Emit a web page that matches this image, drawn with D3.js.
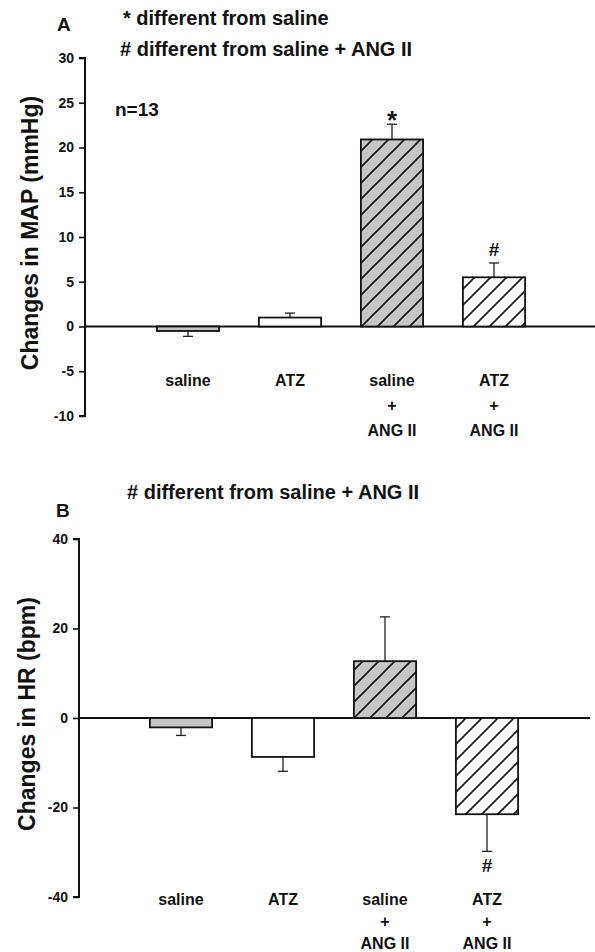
<!DOCTYPE html>
<html lang="en">
<head>
    <meta charset="UTF-8">
    <title>MAP and HR changes</title>
    <script src="https://d3js.org/d3.v7.min.js"></script>
    <style>
        body { margin: 0; background: #fff; }
        text { font-family: "Liberation Sans", Arial, sans-serif; font-weight: bold; fill: #111; }
        .cat { font-size: 16px; }
        .note { font-size: 20px; }
        .ytitle { font-size: 23px; }
        .panel { font-size: 19px; }
    </style>
</head>
<body>
    <svg width="595" height="952"></svg>

    <script>
        // groups (each label broken into lines)
        const categories = ["saline", "ATZ", "saline + ANG II", "ATZ + ANG II"];
        const catLines = [["saline"], ["ATZ"], ["saline", "+", "ANG II"], ["ATZ", "+", "ANG II"]];

        // panel A: change in MAP (mmHg), mean and SEM
        const mapMean = [-0.5, 1.0, 20.9, 5.5];
        const mapSem = [0.6, 0.5, 1.7, 1.6];
        const mapMarks = ["", "", "*", "#"];
        const mapTicks = [-10, -5, 0, 5, 10, 15, 20, 25, 30];

        // panel B: change in HR (bpm), mean and SEM
        const hrMean = [-2.1, -8.7, 12.7, -21.5];
        const hrSem = [1.8, 3.2, 9.9, 8.3];
        const hrMarks = ["", "", "", "#"];
        const hrTicks = [-40, -20, 0, 20, 40];

        // fill style per group
        const fills = ["gray", "white", "grayHatch", "whiteHatch"];

        const svg = d3.select("svg");
        const defs = svg.append("defs");

        [["grayHatch", "#c6c6c6"], ["whiteHatch", "#ffffff"]].forEach(([id, bg]) => {
            const p = defs.append("pattern")
                .attr("id", id)
                .attr("patternUnits", "userSpaceOnUse")
                .attr("width", 16).attr("height", 16);
            p.append("rect").attr("width", 16).attr("height", 16).attr("fill", bg);
            p.append("path")
                .attr("d", "M-4,4 L4,-4 M0,16 L16,0 M12,20 L20,12")
                .attr("stroke", "#111").attr("stroke-width", 1.6);
        });

        function fillOf(f) {
            if (f === "gray") return "#c6c6c6";
            if (f === "white") return "#ffffff";
            return "url(#" + f + ")";
        }

        function panel(opt) {
            const g = svg.append("g");
            const y = d3.scaleLinear().domain(opt.domain).range(opt.yRange);
            const x = d3.scaleBand().domain(categories).range(opt.xRange)
                .paddingInner(0.39).paddingOuter(0.195);

            // y axis
            const axis = g.append("g")
                .attr("transform", `translate(${opt.axisX},0)`)
                .call(d3.axisLeft(y).tickValues(opt.ticks).tickSize(6).tickPadding(5).tickFormat(d => String(d)));
            axis.attr("font-size", null).attr("font-family", null);
            axis.select(".domain").attr("stroke", "#111").attr("stroke-width", 2)
                .attr("d", `M-6,${y(opt.domain[0])}H0V${y(opt.domain[1])}H-6`);
            axis.selectAll(".tick line").attr("stroke", "#111").attr("stroke-width", 1.6);
            axis.selectAll(".tick text").attr("fill", "#111")
                .style("font-size", "14px").style("font-weight", "bold");

            // zero line
            g.append("line")
                .attr("x1", opt.axisX).attr("x2", opt.zeroEnd)
                .attr("y1", y(0)).attr("y2", y(0))
                .attr("stroke", "#111").attr("stroke-width", 2);

            const data = categories.map((c, i) => ({ c, m: opt.mean[i], e: opt.sem[i], f: fills[i], mark: opt.marks[i], lines: catLines[i] }));

            // error bars (drawn on the outer side)
            const eb = g.selectAll(".err").data(data).enter().append("g");
            eb.append("line")
                .attr("x1", d => x(d.c) + x.bandwidth() / 2).attr("x2", d => x(d.c) + x.bandwidth() / 2)
                .attr("y1", d => y(d.m)).attr("y2", d => y(d.m + Math.sign(d.m) * d.e))
                .attr("stroke", "#222").attr("stroke-width", 1.3);
            eb.append("line")
                .attr("x1", d => x(d.c) + x.bandwidth() / 2 - 5).attr("x2", d => x(d.c) + x.bandwidth() / 2 + 5)
                .attr("y1", d => y(d.m + Math.sign(d.m) * d.e)).attr("y2", d => y(d.m + Math.sign(d.m) * d.e))
                .attr("stroke", "#222").attr("stroke-width", 1.3);

            // bars
            g.selectAll(".bar").data(data).enter().append("rect")
                .attr("x", d => x(d.c))
                .attr("width", x.bandwidth())
                .attr("y", d => y(Math.max(0, d.m)))
                .attr("height", d => Math.abs(y(d.m) - y(0)))
                .attr("fill", d => fillOf(d.f))
                .attr("stroke", "#111").attr("stroke-width", 1.8);

            // significance marks
            g.selectAll(".mark").data(data.filter(d => d.mark)).enter().append("text")
                .attr("x", d => x(d.c) + x.bandwidth() / 2)
                .attr("y", d => d.m >= 0 ? y(d.m + d.e) - 7 : y(d.m - d.e) + 21)
                .attr("text-anchor", "middle")
                .style("font-size", d => d.mark === "*" ? "26px" : "19px")
                .attr("dy", d => d.mark === "*" ? "0.45em" : "0")
                .text(d => d.mark);

            // category labels
            data.forEach(d => {
                d.lines.forEach((t, k) => {
                    g.append("text").attr("class", "cat")
                        .attr("x", x(d.c) + x.bandwidth() / 2)
                        .attr("y", opt.catY + k * opt.lineGap)
                        .attr("text-anchor", "middle")
                        .text(t);
                });
            });

            // y title
            g.append("text").attr("class", "ytitle")
                .attr("transform", `translate(${opt.titleX},${opt.titleY}) rotate(-90)`)
                .attr("text-anchor", "middle")
                .text(opt.ytitle);
        }

        panel({
            domain: [-10, 30], yRange: [416, 58], ticks: mapTicks,
            xRange: [137, 545], axisX: 85, zeroEnd: 595,
            mean: mapMean, sem: mapSem, marks: mapMarks,
            catY: 386, lineGap: 25, titleX: 38, titleY: 233, ytitle: "Changes in MAP (mmHg)"
        });

        panel({
            domain: [-40, 40], yRange: [897, 539], ticks: hrTicks,
            xRange: [130, 538], axisX: 79, zeroEnd: 590,
            mean: hrMean, sem: hrSem, marks: hrMarks,
            catY: 905, lineGap: 22, titleX: 35, titleY: 714, ytitle: "Changes in HR (bpm)"
        });

        // panel letters and notes
        svg.append("text").attr("class", "panel").attr("x", 57).attr("y", 31).text("A");
        svg.append("text").attr("class", "note").attr("x", 123).attr("y", 25).text("* different from saline");
        svg.append("text").attr("class", "note").attr("x", 120).attr("y", 56).text("# different from saline + ANG II");
        svg.append("text").attr("class", "note").attr("x", 115).attr("y", 116).style("font-size", "19px").text("n=13");

        svg.append("text").attr("class", "panel").attr("x", 56).attr("y", 517).text("B");
        svg.append("text").attr("class", "note").attr("x", 127).attr("y", 499).text("# different from saline + ANG II");
    </script>
</body>
</html>
